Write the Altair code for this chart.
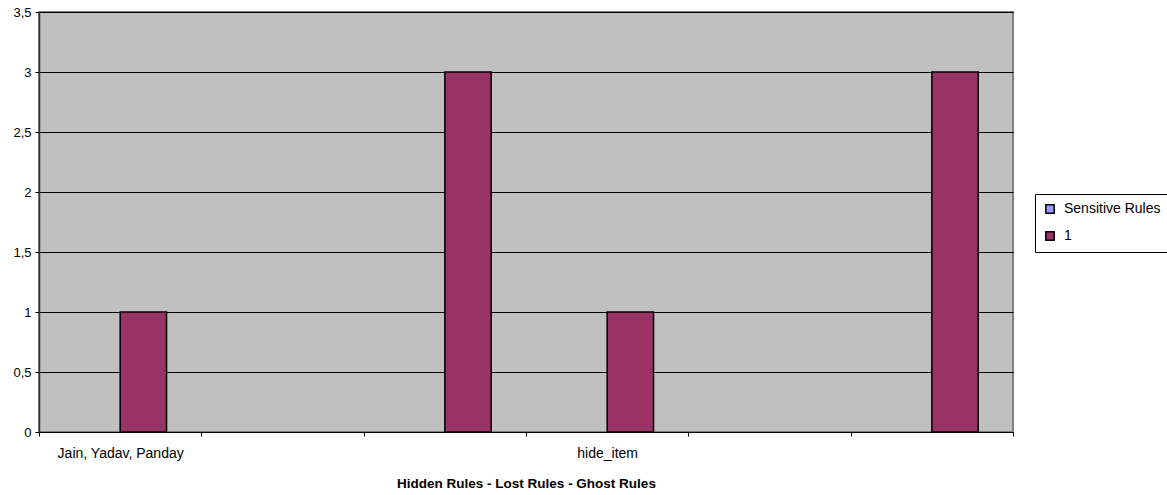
import altair as alt
import pandas as pd

algorithms = ["Jain, Yadav, Panday", "hide_item"]
measures = ["Hidden Rules", "Lost Rules", "Ghost Rules"]
series_names = ["Sensitive Rules", "1"]
sensitive_values = [0, 0, 0, 0, 0, 0]
one_values = [1, 0, 3, 1, 0, 3]
series_colors = ["#9999FF", "#993366"]
y_ticks = [0, 0.5, 1, 1.5, 2, 2.5, 3, 3.5]

categories = [f"{a}|{m}" for a in algorithms for m in measures]

rows = []
for i, cat in enumerate(categories):
    rows.append({"cat": cat, "series": series_names[0], "value": sensitive_values[i]})
    rows.append({"cat": cat, "series": series_names[1], "value": one_values[i]})
df = pd.DataFrame(rows)

W, H = 974, 420
FONT = "Liberation Sans"

chart = (
    alt.Chart(df)
    .mark_bar(strokeWidth=1.5)
    .encode(
        x=alt.X(
            "cat:N",
            sort=categories,
            scale=alt.Scale(paddingInner=0, paddingOuter=0),
            axis=alt.Axis(
                title="Hidden Rules - Lost Rules - Ghost Rules",
                titleFont=FONT,
                titleFontSize=13.5,
                titleFontWeight="bold",
                titleColor="black",
                titlePadding=16,
                labelAngle=0,
                labelFont=FONT,
                labelFontSize=14,
                labelColor="black",
                labelPadding=10,
                labelExpr="indexof(datum.label, '|Hidden Rules') >= 0 ? split(datum.label, '|')[0] : ''",
                tickBand="extent",
                tickSize=4,
                tickColor="black",
                domainColor="black",
                domainWidth=1,
                grid=False,
            ),
        ),
        xOffset=alt.XOffset(
            "series:N",
            sort=series_names,
            scale=alt.Scale(paddingInner=0, paddingOuter=0.75),
        ),
        y=alt.Y(
            "value:Q",
            scale=alt.Scale(domain=[0, 3.5], nice=False),
            axis=alt.Axis(
                title=None,
                values=y_ticks,
                labelExpr="replace(toString(datum.value), '.', ',')",
                labelFont=FONT,
                labelFontSize=13,
                labelColor="black",
                labelPadding=4,
                tickSize=4,
                tickColor="black",
                domainColor="#333333",
                domainWidth=1.5,
                grid=True,
                gridColor="black",
                gridWidth=1,
            ),
        ),
        stroke=alt.condition("datum.value > 0", alt.value("black"), alt.value("transparent")),
        color=alt.Color(
            "series:N",
            sort=series_names,
            scale=alt.Scale(domain=series_names, range=series_colors),
            legend=alt.Legend(
                title=None,
                orient="none",
                legendX=996,
                legendY=182,
                symbolType="square",
                symbolSize=70,
                symbolStrokeColor="black",
                symbolStrokeWidth=1.5,
                labelFont=FONT,
                labelFontSize=14,
                labelColor="black",
                labelOffset=7,
                rowPadding=11,
                padding=8,
                strokeColor="black",
                fillColor="white",
            ),
        ),
    )
    .properties(
        width=W,
        height=H,
        autosize=alt.AutoSizeParams(type="none"),
        padding={"left": 39, "top": 12, "right": 154, "bottom": 63},
    )
    .configure(background="white")
    .configure_view(fill="#C0C0C0", stroke="#808080", strokeWidth=2)
)

chart.save("out.html", embed_options={"renderer": "svg", "actions": False})
